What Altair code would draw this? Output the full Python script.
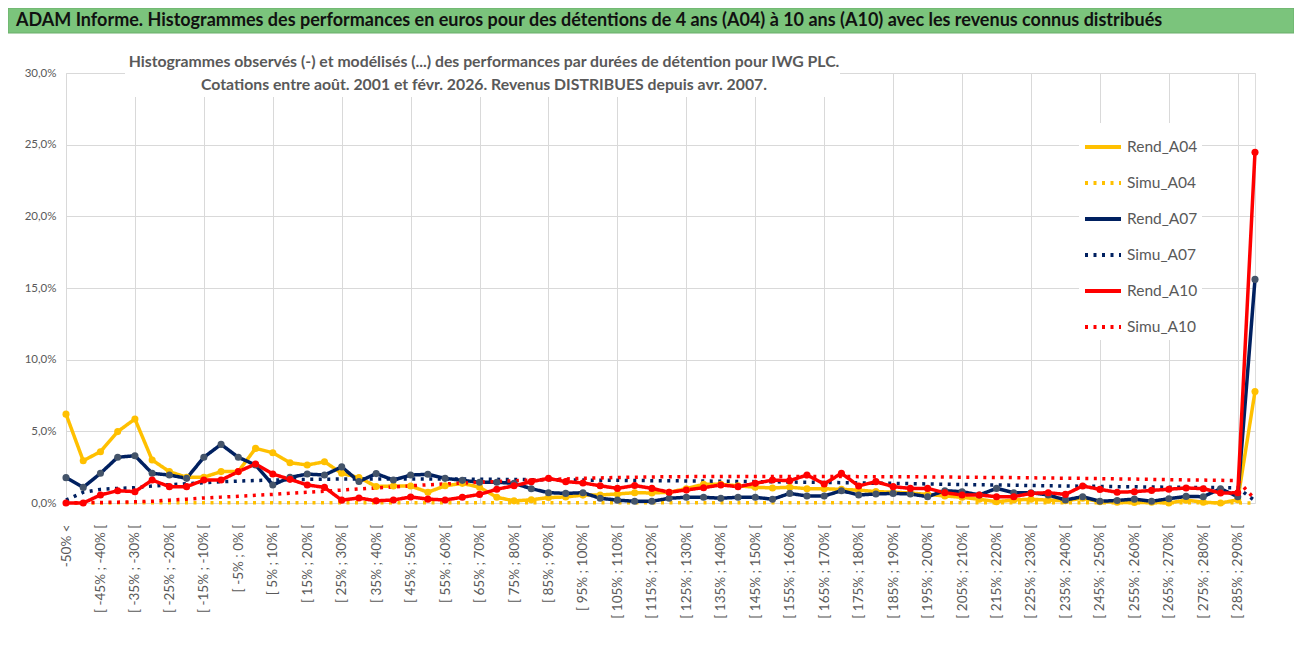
import altair as alt
import pandas as pd

# ---- categories (x axis) ----
cats = ["-50% <"] + [f"[ {a}% ; {a + 5}% [" for a in range(-50, 290, 5)] + ["> 290%"]

series_names = ["Rend_A04", "Simu_A04", "Rend_A07", "Simu_A07", "Rend_A10", "Simu_A10"]

# ---- values in % ----
rend_a04 = [6.2, 2.95, 3.58, 4.98, 5.86, 3.0, 2.19, 1.79, 1.8, 2.19,
            2.2, 3.81, 3.51, 2.81, 2.65, 2.88, 2.07, 1.78, 1.15, 1.19,
            1.19, 0.75, 1.2, 1.37, 1.1, 0.4, 0.15, 0.22, 0.38, 0.42,
            0.55, 0.56, 0.63, 0.72, 0.7, 0.75, 1.0, 1.3, 1.3, 1.2,
            1.1, 1.05, 1.1, 1.0, 1.0, 0.95, 0.9, 0.8, 0.75, 0.7,
            0.6, 0.49, 0.4, 0.26, 0.09, 0.21, 0.26, 0.2, 0.16, 0.33,
            0.09, 0.05, 0.03, 0.05, 0.0, 0.2, 0.05, 0.0, 0.22, 7.78]
simu_a04 = [0.0, 0.0, 0.0, 0.01, 0.01, 0.01, 0.01, 0.01, 0.01, 0.01,
            0.01, 0.01, 0.01, 0.01, 0.01, 0.01, 0.01, 0.01, 0.01, 0.01,
            0.01, 0.01, 0.01, 0.01, 0.01, 0.01, 0.01, 0.01, 0.01, 0.01,
            0.01, 0.01, 0.01, 0.01, 0.01, 0.01, 0.01, 0.01, 0.01, 0.01,
            0.01, 0.01, 0.01, 0.01, 0.01, 0.01, 0.01, 0.01, 0.01, 0.01,
            0.01, 0.01, 0.01, 0.01, 0.01, 0.01, 0.01, 0.01, 0.01, 0.01,
            0.01, 0.01, 0.01, 0.01, 0.01, 0.01, 0.01, 0.01, 0.01, 0.0]
rend_a07 = [1.77, 1.09, 2.07, 3.19, 3.3, 2.07, 1.95, 1.72, 3.19, 4.09,
            3.19, 2.65, 1.26, 1.79, 2.02, 1.95, 2.52, 1.5, 2.05, 1.6,
            1.95, 2.0, 1.72, 1.58, 1.45, 1.45, 1.37, 1.0, 0.72, 0.67,
            0.72, 0.33, 0.2, 0.12, 0.12, 0.33, 0.4, 0.4, 0.33, 0.4,
            0.4, 0.26, 0.67, 0.49, 0.49, 0.86, 0.56, 0.63, 0.67, 0.63,
            0.44, 0.86, 0.79, 0.56, 1.02, 0.72, 0.72, 0.56, 0.21, 0.44,
            0.12, 0.18, 0.27, 0.12, 0.3, 0.46, 0.44, 1.0, 0.44, 15.6]
simu_a07 = [0.2, 0.75, 0.95, 1.02, 1.07, 1.18, 1.27, 1.35, 1.42, 1.48,
            1.53, 1.57, 1.6, 1.63, 1.65, 1.66, 1.67, 1.68, 1.68, 1.68,
            1.68, 1.68, 1.67, 1.67, 1.66, 1.65, 1.64, 1.63, 1.62, 1.61,
            1.6, 1.59, 1.58, 1.57, 1.56, 1.55, 1.54, 1.53, 1.52, 1.5,
            1.49, 1.48, 1.46, 1.45, 1.43, 1.42, 1.4, 1.38, 1.37, 1.35,
            1.33, 1.31, 1.29, 1.27, 1.26, 1.24, 1.22, 1.2, 1.19, 1.17,
            1.16, 1.14, 1.13, 1.12, 1.1, 1.09, 1.08, 1.07, 1.06, 0.15]
rend_a10 = [0.0, 0.0, 0.56, 0.86, 0.79, 1.6, 1.14, 1.14, 1.6, 1.6,
            2.19, 2.72, 2.02, 1.65, 1.26, 1.09, 0.2, 0.35, 0.15, 0.21,
            0.42, 0.27, 0.21, 0.4, 0.6, 0.96, 1.2, 1.49, 1.72, 1.49,
            1.4, 1.2, 1.02, 1.22, 1.02, 0.75, 0.91, 1.07, 1.26, 1.14,
            1.37, 1.6, 1.56, 1.95, 1.33, 2.07, 1.19, 1.49, 1.14, 1.02,
            1.02, 0.72, 0.56, 0.56, 0.44, 0.44, 0.67, 0.72, 0.6, 1.19,
            0.95, 0.75, 0.79, 0.88, 0.96, 1.05, 1.0, 0.7, 0.71, 24.47]
simu_a10 = [0.0, 0.02, 0.04, 0.06, 0.08, 0.12, 0.2, 0.27, 0.35, 0.41,
            0.47, 0.54, 0.6, 0.68, 0.75, 0.82, 0.9, 0.98, 1.05, 1.12,
            1.2, 1.27, 1.33, 1.39, 1.45, 1.5, 1.55, 1.6, 1.64, 1.68,
            1.72, 1.75, 1.78, 1.8, 1.82, 1.83, 1.84, 1.85, 1.85, 1.85,
            1.85, 1.85, 1.85, 1.85, 1.85, 1.85, 1.84, 1.84, 1.83, 1.83,
            1.82, 1.81, 1.8, 1.79, 1.78, 1.77, 1.76, 1.74, 1.73, 1.72,
            1.7, 1.68, 1.67, 1.65, 1.63, 1.61, 1.6, 1.58, 1.56, 0.25]

series_values = [rend_a04, simu_a04, rend_a07, simu_a07, rend_a10, simu_a10]

title_main = ("ADAM Informe. Histogrammes des performances en euros pour des détentions "
              "de 4 ans (A04) à 10 ans (A10) avec les revenus connus distribués")
title_l1 = ("Histogrammes observés (-) et modélisés (...) des performances par durées "
            "de détention pour IWG PLC.")
title_l2 = "Cotations entre août. 2001 et févr. 2026. Revenus DISTRIBUES depuis avr. 2007."

rows = []
for name, vals in zip(series_names, series_values):
    for c, v in zip(cats, vals):
        rows.append({"cat": c, "series": name, "value": v / 100.0})
df = pd.DataFrame(rows)

FONT = "Lato"
GREY = "#595959"
line_colors = ["#FFC000", "#FFC000", "#002060", "#002060", "#FF0000", "#FF0000"]
dash_range = [[1, 0], [3, 5.5], [1, 0], [3, 5.5], [1, 0], [3, 5.5]]

grid_cats = cats[::4]
label_cats = cats[0:69:2]
grid_test = "indexof([" + ",".join("'" + c + "'" for c in grid_cats) + "], datum.value) >= 0"
label_expr = ("indexof([" + ",".join("'" + c + "'" for c in label_cats) +
              "], datum.value) >= 0 ? datum.label : ''")

x_enc = alt.X(
    "cat:O",
    sort=cats,
    scale=alt.Scale(type="point", padding=0, domain=cats),
    axis=alt.Axis(
        title=None, labelAngle=-90, labelExpr=label_expr, labelOverlap=False,
        labelFont=FONT, labelFontSize=13.5, labelColor=GREY, labelPadding=21,
        ticks=False, tickSize=0, domain=False, grid=True, gridColor="#D9D9D9",
        gridOpacity={"condition": {"test": grid_test, "value": 1}, "value": 0},
    ),
)
y_enc = alt.Y(
    "value:Q",
    scale=alt.Scale(domain=[0, 0.30], nice=False),
    axis=alt.Axis(
        title=None, values=[0, 0.05, 0.10, 0.15, 0.20, 0.25, 0.30],
        labelExpr="replace(format(datum.value * 100, '.1f'), '.', ',') + '%'",
        labelFont=FONT, labelFontSize=11.5, labelColor=GREY, labelPadding=10,
        ticks=False, domain=False, grid=True, gridColor="#D9D9D9",
    ),
)

one = alt.Data(values=[{"k": 1}])

banner = alt.Chart(one).mark_rect(color="#7BC47C", stroke="#6AAE6B").encode(
    x=alt.value(-58), x2=alt.value(1228), y=alt.value(-65), y2=alt.value(-40))
banner_text = alt.Chart(one).mark_text(
    text=title_main, font=FONT, fontSize=18, fontWeight="bold", color="#111111",
    align="left", baseline="alphabetic").encode(x=alt.value(-50), y=alt.value(-47))
title_box = alt.Chart(one).mark_rect(color="white").encode(
    x=alt.value(59), x2=alt.value(774), y=alt.value(-1), y2=alt.value(24))
sub1 = alt.Chart(one).mark_text(
    text=title_l1, font=FONT, fontSize=15.8, fontWeight="bold", color=GREY,
    align="center", baseline="alphabetic").encode(x=alt.value(418), y=alt.value(-6))
sub2 = alt.Chart(one).mark_text(
    text=title_l2, font=FONT, fontSize=15.8, fontWeight="bold", color=GREY,
    align="center", baseline="alphabetic").encode(x=alt.value(418), y=alt.value(17))

leg = alt.Legend(
    title=None, orient="none", legendX=1013, legendY=50,
    symbolType="stroke", symbolSize=1296, symbolStrokeWidth=4,
    labelFont=FONT, labelFontSize=15.5, labelColor=GREY, labelOffset=4,
    rowPadding=7, fillColor="white", padding=4,
)

lines = alt.Chart(df).mark_line(strokeWidth=3.5, strokeJoin="round").encode(
    x=x_enc,
    y=y_enc,
    color=alt.Color("series:N", scale=alt.Scale(domain=series_names, range=line_colors),
                    legend=leg),
    strokeDash=alt.StrokeDash("series:N", scale=alt.Scale(domain=series_names, range=dash_range),
                              legend=leg),
    order=alt.Order("series:N"),
)

points = alt.Chart(df).transform_filter(
    alt.FieldOneOfPredicate(field="series", oneOf=["Rend_A04", "Rend_A07", "Rend_A10"])
).mark_point(filled=True, size=50, opacity=1).encode(
    x=alt.X("cat:O", sort=cats),
    y=alt.Y("value:Q"),
    fill=alt.Fill(
        "series:N",
        scale=alt.Scale(domain=["Rend_A04", "Rend_A07", "Rend_A10"],
                        range=["#FFC000", "#44546A", "#FF0000"]),
        legend=None,
    ),
)

chart = alt.layer(banner, banner_text, title_box, sub1, sub2, lines, points).properties(
    width=1189,
    height=430,
    autosize=alt.AutoSizeParams(type="none"),
    padding={"left": 58, "top": 65, "right": 39, "bottom": 125},
).configure_view(stroke=None).configure(background="white")

chart.save("out.html", embed_options={"renderer": "svg", "actions": False})
